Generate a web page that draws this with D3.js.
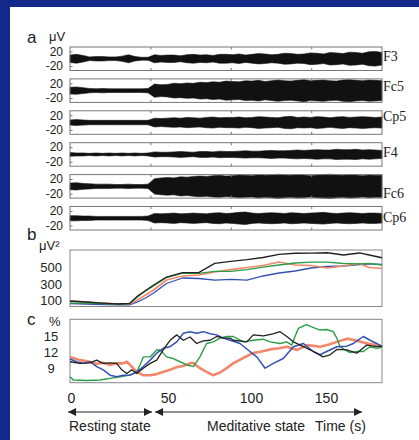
<!DOCTYPE html>
<html>
<head>
<meta charset="utf-8">
<script src="https://cdn.jsdelivr.net/npm/d3@7"></script>
<style>
  body { margin: 0; background: #fff; }
  svg { display: block; }
  text { font-family: "Liberation Sans", Arial, sans-serif; fill: #222; }
  .serif { font-family: "Liberation Serif", "Times New Roman", serif; }
</style>
</head>
<body>
<svg id="chart" width="419" height="440"></svg>
<script>
// ---- values ----
var channels = ["F3", "Fc5", "Cp5", "F4", "Fc6", "Cp6"];

// EEG envelope half-amplitude (uV), 49 samples across 0..194 s
var ampF3  = [10,12,9,5,6,6,5,5,7,11,6,4,4, 11,9,10,10,8,11,12,10,11,9,12,12,11,13,10,12,14,13,11,12,15,14,12,13,16,15,13,17,16,14,18,17,15,19,20,17];
var ampFc5 = [9,10,8,6,5,6,5,5,5,5,5,5,6, 18,16,17,20,19,21,20,23,22,24,23,26,25,24,27,26,28,25,27,29,27,26,28,30,27,28,29,27,26,29,30,28,27,29,28,27];
var ampCp5 = [7,8,7,6,6,6,6,6,6,6,6,6,6, 12,11,12,13,12,14,13,12,14,15,13,14,14,15,13,14,16,15,14,13,16,17,14,15,14,16,15,13,15,16,14,15,16,15,14,15];
var ampF4  = [5,4,4,3,4,3,4,3,4,3,4,3,4, 7,6,6,7,8,7,6,8,8,7,9,8,8,9,10,9,9,10,11,10,10,11,12,11,12,13,12,12,14,13,13,14,12,13,12,11];
var ampFc6 = [9,10,8,7,6,6,6,5,5,6,5,5,6, 21,23,24,23,26,25,27,28,27,29,30,28,29,31,30,29,32,30,31,33,31,30,32,31,29,31,32,33,31,30,32,31,29,31,30,30];
var ampCp6 = [7,7,6,6,5,5,5,5,5,5,5,5,6, 13,12,13,14,12,13,14,13,12,14,15,13,14,16,17,14,13,14,15,14,13,15,14,13,14,15,16,14,13,14,15,14,13,14,14,13];
var eegAmp = [ampF3, ampFc5, ampCp5, ampF4, ampFc6, ampCp6];
var eegTicks = [20, -20];

// panel b: power (uV^2)
var powerTime   = [0,10,20,30,37,42,47,52,60,70,80,90,100,110,120,130,140,150,160,170,180,186,194];
var powerBlack  = [88,76,63,51,57,150,218,286,385,439,439,555,580,600,627,665,680,681,686,658,683,658,624];
var powerGreen  = [63,63,57,51,57,138,212,274,379,435,431,454,454,478,509,534,559,571,571,553,547,553,534];
var powerOrange = [88,76,63,51,51,100,162,224,348,398,410,447,478,503,528,571,534,528,497,522,553,503,491];
var powerBlue   = [57,51,45,39,39,76,125,187,305,373,367,348,355,348,398,435,460,497,516,522,540,547,543];
var powerTicks  = [100, 300, 500];

// panel c: percentage, [time s, %]
var pctOrange = [[0,11.2],[6.2,10.6],[12.4,10.3],[16.6,9.9],[20.5,10.1],[24.9,9.7],[29,10.0],[33,10.0],[35.3,10.3],[38.4,9.4],[41.5,8.4],[45.4,7.8],[49.8,7.8],[53.9,8.0],[57.8,8.4],[62.2,8.8],[66.4,9.3],[70.3,9.5],[74.6,10.0],[76.5,10.1],[80.8,9.1],[85,8.4],[88.9,7.8],[93.3,8.3],[97.4,9.1],[101.4,10.0],[107,10.9],[113.8,11.9],[119,12.2],[124.4,12.6],[130,12.8],[134.9,13.1],[141.2,12.5],[147.4,13.4],[155.5,13.1],[161,13.5],[166,14.0],[172.3,14.6],[178.5,14.2],[184.7,13.7],[190.9,13.4],[194,13.2]];
var pctBlack = [[0,10.3],[6.2,10.0],[12.4,10.1],[16.6,10.6],[20.5,10.0],[24.9,10.1],[29,10.0],[32.2,8.8],[35.3,8.1],[38.4,8.8],[41.5,8.1],[45.6,9.1],[49.8,10.0],[53.9,10.6],[58,12.5],[62.2,14.3],[66.4,15.3],[70.5,14.3],[74.6,14.9],[78.8,13.7],[82.9,14.2],[87.1,14.3],[91.2,15.0],[95.3,14.7],[99.5,14.7],[101.6,14.3],[109.9,14.0],[114,15.3],[120.2,15.1],[126.2,15.5],[130.6,15.9],[134.8,15.0],[138.9,14.0],[145.1,13.1],[151.3,12.2],[157.3,11.2],[161.7,11.6],[165.9,12.6],[172.1,12.5],[178.3,11.9],[184.5,13.4],[190.7,13.1],[194,13.2]];
var pctBlue = [[0,10.8],[4.1,10.3],[8.3,10.0],[12.4,10.3],[16.6,9.4],[20.7,8.8],[24.9,7.8],[29,7.5],[33.1,7.8],[37.3,7.8],[41.5,8.4],[45.6,9.4],[49.8,10.6],[53.9,11.9],[58,12.8],[62.2,13.1],[66.4,14.0],[70.5,15.6],[74.6,15.9],[78.8,15.6],[82.9,15.9],[87.1,15.5],[91.2,15.3],[95.3,14.7],[99.5,14.3],[105.7,13.7],[111.9,12.2],[116.1,11.2],[121.3,9.1],[126.4,10.0],[132.6,10.9],[138.9,13.1],[145.1,13.7],[151.3,12.2],[155.5,11.6],[159.6,12.2],[165.9,13.1],[172.1,13.2],[176.2,13.7],[182.4,15.0],[186.6,14.3],[190.7,13.7],[194,13.1]];
var pctGreen = [[0,7.5],[2.1,6.9],[10.4,6.8],[18.7,6.9],[24.9,7.2],[31.1,7.5],[37.3,7.8],[41.5,8.4],[43.5,9.7],[45.6,11.2],[49.8,11.2],[53.9,12.5],[56,12.5],[58,11.9],[60,11.2],[64.2,10.9],[68.4,10.3],[72.6,9.7],[76.7,9.4],[80.8,11.2],[82.9,12.5],[85,13.7],[89.1,14.0],[93.3,14.7],[97.4,15.0],[101.6,15.0],[107.8,14.0],[114,14.3],[120.2,14.5],[124.4,14.0],[130.6,13.7],[134.8,14.0],[137.9,13.4],[139.9,15.0],[142,16.5],[147,17.2],[150.3,16.8],[155.5,16.2],[159.6,16.3],[163.7,15.9],[165.9,14.7],[167.9,13.1],[171,12.5],[174.1,12.0],[178.3,12.2],[182.4,12.2],[186.6,13.1],[190.7,12.8],[194,13.0]];
var pctTicks = [9, 12, 15];

var timeTicks = [0, 50, 100, 150];
var states = [{name: "Resting state", from: -1.2, to: 51}, {name: "Meditative state", from: 52.9, to: 181.6}];

// ---- drawing ----
var svg = d3.select("#chart");
var W = 419, H = 440;
var ink = "#222";

svg.append("rect").attr("width", W).attr("height", H).attr("fill", "#13288b");
svg.append("rect").attr("x", 10).attr("y", 7).attr("width", W - 10).attr("height", H - 7).attr("fill", "#fff");

var x = d3.scaleLinear().domain([0, 194]).range([70, 382]);
var x0 = x.range()[0], x1 = x.range()[1];

function leftAxis(g, scale, ticks, pad, size) {
  g.call(d3.axisLeft(scale).tickValues(ticks).tickSize(0).tickPadding(pad).tickFormat(String));
  g.select(".domain").remove();
  g.selectAll("text").attr("font-size", size || 13).attr("fill", ink)
    .style("font-family", "Liberation Sans, Arial, sans-serif");
}

// panel a
var band = d3.scaleBand().domain(channels).range([47, 230]).paddingInner(0.263).paddingOuter(0);
var eegT = d3.range(49).map(function(i){ return i * 194 / 48; });
var labelDy = {F3: 14, Fc5: 12, Cp5: 10, F4: 14, Fc6: 23, Cp6: 16};

channels.forEach(function(ch, i){
  var top = band(ch), h = band.bandwidth();
  var y = d3.scaleLinear().domain([-32, 32]).range([top + h, top]);
  var g = svg.append("g");

  var area = d3.area()
    .x(function(d, j){ return x(eegT[j]); })
    .y0(function(d){ return y(-d); })
    .y1(function(d){ return y(d); });
  g.append("path").datum(eegAmp[i]).attr("d", area).attr("fill", "#111")
    .attr("stroke", "#111").attr("stroke-width", 0.6);
  g.append("line").attr("x1", x0).attr("x2", x1).attr("y1", y(0)).attr("y2", y(0))
    .attr("stroke", "#111").attr("stroke-width", 1);

  g.append("rect").attr("x", x0).attr("y", top).attr("width", x1 - x0).attr("height", h)
    .attr("fill", "none").attr("stroke", "#777").attr("stroke-width", 1);

  // inward ticks
  var tb = g.append("g").attr("transform", "translate(0," + (top + h) + ")")
    .call(d3.axisBottom(x).tickValues([50, 100, 150]).tickSize(-2.5).tickFormat(""));
  var tt = g.append("g").attr("transform", "translate(0," + top + ")")
    .call(d3.axisTop(x).tickValues([50, 100, 150]).tickSize(-2.5).tickFormat(""));
  var tl = g.append("g").attr("transform", "translate(" + x0 + ",0)")
    .call(d3.axisLeft(y).tickValues(eegTicks).tickSize(-2.5).tickFormat(""));
  [tb, tt, tl].forEach(function(a){ a.select(".domain").remove(); a.selectAll("line").attr("stroke", "#777"); });

  var lab = g.append("g").attr("transform", "translate(" + x0 + ",0)");
  leftAxis(lab, y, eegTicks, 7, 12);

  g.append("text").attr("class", "serif").attr("x", x1 + 1).attr("y", top + labelDy[ch])
    .attr("font-size", 14).text(ch);
});

svg.append("text").attr("x", 27).attr("y", 43).attr("font-size", 17).text("a");
svg.append("text").attr("x", 49).attr("y", 41).attr("font-size", 13).text("μV");

// panel b
var yb = d3.scaleLinear().domain([20, 720]).range([306.5, 250]);
svg.append("rect").attr("x", x0).attr("y", 250).attr("width", x1 - x0).attr("height", 56.5)
  .attr("fill", "none").attr("stroke", "#888").attr("stroke-width", 1);
leftAxis(svg.append("g").attr("transform", "translate(" + x0 + ",0)"), yb, powerTicks, 8);

var lineB = d3.line().x(function(d, i){ return x(powerTime[i]); }).y(function(d){ return yb(d); });
[[powerBlue, "#3352b5", 1.3], [powerOrange, "#f3876b", 1.7], [powerGreen, "#2a9e45", 1.3], [powerBlack, "#222", 1.3]]
  .forEach(function(s){
    svg.append("path").datum(s[0]).attr("d", lineB).attr("fill", "none")
      .attr("stroke", s[1]).attr("stroke-width", s[2]).attr("stroke-linejoin", "round");
  });

svg.append("text").attr("x", 27).attr("y", 240).attr("font-size", 17).text("b");
svg.append("text").attr("x", 39).attr("y", 250).attr("font-size", 13).text("μV²");

// panel c
var yc = d3.scaleLinear().domain([6.4, 18.2]).range([382.7, 319.3]);
svg.append("rect").attr("x", x0).attr("y", 319.3).attr("width", x1 - x0).attr("height", 63.4)
  .attr("fill", "none").attr("stroke", "#888").attr("stroke-width", 1);
var cAx = svg.append("g").attr("transform", "translate(" + x0 + ",0)");
leftAxis(cAx, yc, pctTicks, 0);
cAx.selectAll("text").attr("text-anchor", "middle").attr("x", -19);

var lineC = d3.line().x(function(d){ return x(d[0]); }).y(function(d){ return yc(d[1]); });
[[pctOrange, "#f3876b", 2.6], [pctGreen, "#2a9e45", 1.4], [pctBlue, "#3352b5", 1.5], [pctBlack, "#222", 1.3]]
  .forEach(function(s){
    svg.append("path").datum(s[0]).attr("d", lineC).attr("fill", "none")
      .attr("stroke", s[1]).attr("stroke-width", s[2]).attr("stroke-linejoin", "round");
  });

svg.append("text").attr("x", 27).attr("y", 325).attr("font-size", 17).text("c");
svg.append("text").attr("x", 49).attr("y", 326).attr("font-size", 13).text("%");

// time labels (placed as in the figure, which is not linear)
var labelX = d3.scaleLinear().domain(timeTicks).range([71, 168, 251, 326]);
var tAx = svg.append("g").attr("transform", "translate(0,393)")
  .call(d3.axisBottom(labelX).tickValues(timeTicks).tickSize(0).tickPadding(0));
tAx.select(".domain").remove();
tAx.selectAll("text").attr("font-size", 14).attr("fill", ink).style("font-family", "Liberation Sans, Arial, sans-serif");

// state arrows
var defs = svg.append("defs");
defs.append("marker").attr("id", "head").attr("viewBox", "0 0 10 10")
  .attr("refX", 10).attr("refY", 5).attr("markerWidth", 9).attr("markerHeight", 8)
  .attr("markerUnits", "userSpaceOnUse").attr("orient", "auto-start-reverse")
  .append("path").attr("d", "M0,0L10,5L0,10z").attr("fill", ink);

svg.selectAll(".state").data(states).enter().append("line")
  .attr("class", "state")
  .attr("x1", function(d){ return x(d.from); }).attr("x2", function(d){ return x(d.to); })
  .attr("y1", 412).attr("y2", 412)
  .attr("stroke", ink).attr("stroke-width", 1.2)
  .attr("marker-start", "url(#head)").attr("marker-end", "url(#head)");

svg.append("text").attr("x", 69).attr("y", 431).attr("font-size", 14).text(states[0].name);
svg.append("text").attr("x", 207).attr("y", 431).attr("font-size", 14).text(states[1].name);
svg.append("text").attr("x", 315).attr("y", 431).attr("font-size", 14).text("Time (s)");
</script>
</body>
</html>
